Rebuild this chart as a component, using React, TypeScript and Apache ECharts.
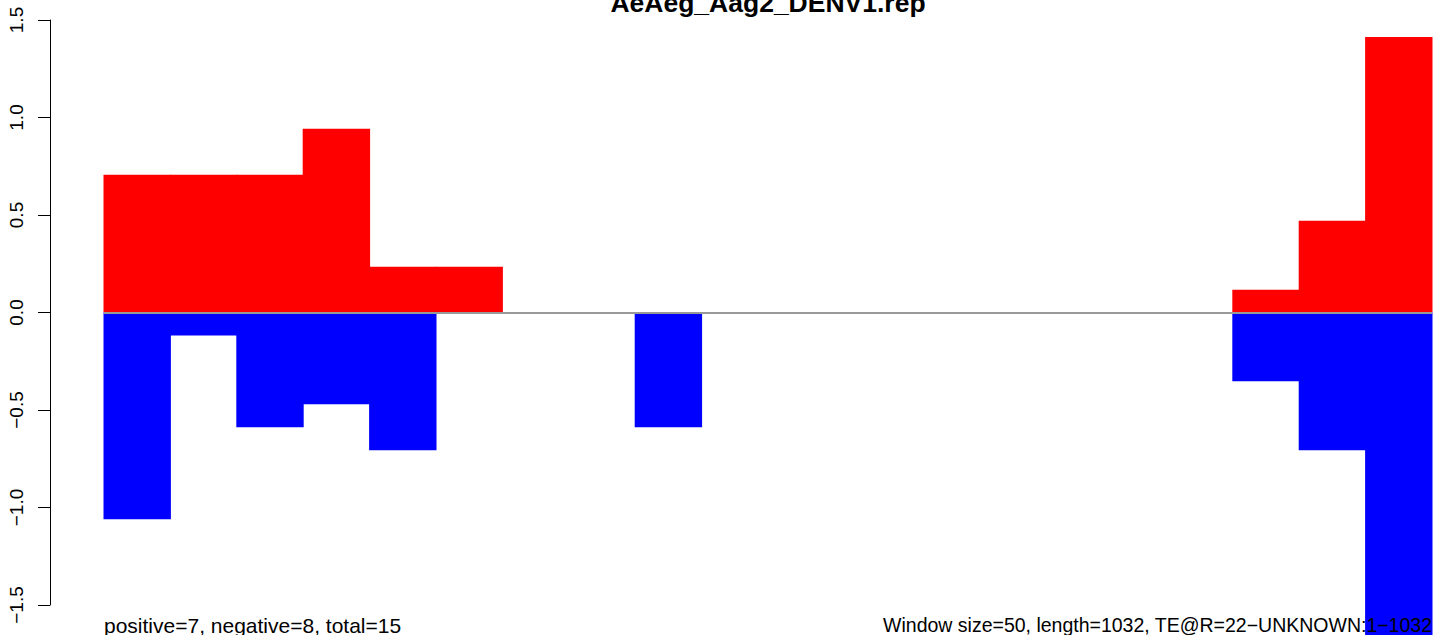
import React, { useEffect, useRef } from "react";
import * as echarts from "echarts";

const windows = Array.from({ length: 20 }, (_, i) => String(i + 1));
const positiveValues = [0.707, 0.707, 0.707, 0.942, 0.235, 0.235, 0, 0, 0, 0, 0, 0, 0, 0, 0, 0, 0, 0.117, 0.47, 1.413];
const negativeValues = [-1.06, -0.118, -0.589, -0.471, -0.707, 0, 0, 0, -0.589, 0, 0, 0, 0, 0, 0, 0, 0, -0.353, -0.707, -1.8];
const yTicks = [-1.5, -1.0, -0.5, 0.0, 0.5, 1.0, 1.5];
const titleText = "AeAeg_Aag2_DENV1.rep";
const leftNote = "positive=7, negative=8, total=15";
const rightNote = "Window size=50, length=1032, TE@R=22\u2212UNKNOWN:1\u22121032";

const FONT = "'Liberation Sans', Arial, Helvetica, sans-serif";

export default function App() {
  const ref = useRef<HTMLDivElement>(null);
  useEffect(() => {
    if (!ref.current) return;
    const chart = echarts.init(ref.current, null, { renderer: "svg" });
    chart.setOption({
      animation: false,
      backgroundColor: "#ffffff",
      grid: { left: 104, right: 4, top: 20, bottom: 30, containLabel: false },
      xAxis: {
        type: "category",
        data: windows,
        boundaryGap: true,
        show: false,
      },
      yAxis: {
        type: "value",
        min: -1.5,
        max: 1.5,
        interval: 0.5,
        offset: 54,
        splitLine: { show: false },
        axisLine: { show: true, lineStyle: { color: "#000", width: 1 } },
        axisTick: { show: true, length: 12, inside: false, lineStyle: { color: "#000", width: 1 } },
        axisLabel: {
          rotate: 90,
          margin: 24,
          color: "#000",
          fontSize: 19,
          fontFamily: FONT,
          formatter: (v: number) => {
            const t = yTicks.find((k) => Math.abs(k - v) < 1e-9);
            const val = t === undefined ? v : t;
            return val.toFixed(1).replace("-", "\u2212");
          },
        },
      },
      series: [
        {
          name: "zero",
          type: "bar",
          data: windows.map(() => 0),
          z: 1,
          silent: true,
          markLine: {
            silent: true,
            symbol: ["none", "none"],
            label: { show: false },
            lineStyle: { color: "#999999", width: 1.8, type: "solid" },
            data: [{ yAxis: 0 }],
          },
        },
        {
          name: "positive",
          type: "bar",
          data: positiveValues,
          barWidth: "101.5%",
          barGap: "-100%",
          itemStyle: { color: "#ff0000" },
          clip: false,
          z: 2,
        },
        {
          name: "negative",
          type: "bar",
          data: negativeValues,
          barWidth: "101.5%",
          barGap: "-100%",
          itemStyle: { color: "#0000ff" },
          clip: false,
          z: 2,
        },
      ],
      graphic: [
        {
          type: "text",
          x: 768,
          y: 3,
          style: {
            text: titleText,
            font: `bold 26.5px ${FONT}`,
            fill: "#000",
            align: "center",
            verticalAlign: "middle",
          },
        },
        {
          type: "text",
          x: 104,
          y: 625,
          z: 10,
          style: {
            text: leftNote,
            font: `21px ${FONT}`,
            fill: "#000",
            align: "left",
            verticalAlign: "middle",
          },
        },
        {
          type: "text",
          x: 1432,
          y: 625,
          z: 10,
          style: {
            text: rightNote,
            font: `19.5px ${FONT}`,
            fill: "#000",
            align: "right",
            verticalAlign: "middle",
          },
        },
      ],
    });
    return () => chart.dispose();
  }, []);
  return (
    <div
      ref={ref}
      style={{ position: "fixed", left: 0, top: 0, width: 1436, height: 635, background: "#fff" }}
    />
  );
}
